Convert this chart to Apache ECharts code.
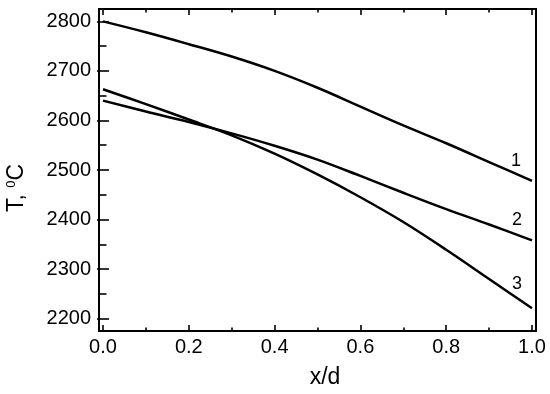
<!DOCTYPE html>
<html>
<head>
<meta charset="utf-8">
<script src="https://cdn.jsdelivr.net/npm/echarts@6/dist/echarts.min.js"></script>
<style>html,body{margin:0;padding:0;background:#fff}#c{width:550px;height:394px}</style>
</head>
<body>
<div id="c"></div>
<script>
const xValues = [0, 0.1, 0.2, 0.3, 0.4, 0.5, 0.6, 0.7, 0.8, 0.9, 1.0];
const curve1 = [2800, 2778, 2754, 2729, 2700, 2666, 2628, 2590, 2554, 2516, 2478];
const curve2 = [2640, 2618, 2597, 2574, 2549, 2521, 2488, 2454, 2421, 2390, 2358];
const curve3 = [2663, 2633, 2602, 2570, 2533, 2491, 2445, 2395, 2339, 2280, 2221];
const curveNames = ['1', '2', '3'];
const xMajorTicks = [0, 0.2, 0.4, 0.6, 0.8, 1.0];
const xMinorTicks = [0.1, 0.3, 0.5, 0.7, 0.9];
const yMajorTicks = [2200, 2300, 2400, 2500, 2600, 2700, 2800];
const yMinorTicks = [2250, 2350, 2450, 2550, 2650, 2750];
const xTitle = 'x/d';
const yTitle = 'T, {s|0}C';

const FONT = 'Liberation Sans, Arial, sans-serif';
const X_MIN = -0.0093, X_MAX = 1.0093, Y_MIN = 2175, Y_MAX = 2825;

function xAx(pos, ticks, len, labels) {
  return {
    type: 'value', position: pos, min: X_MIN, max: X_MAX,
    splitLine: { show: false },
    axisLine: { show: false },
    axisTick: { show: true, inside: true, length: len, customValues: ticks,
      lineStyle: { color: '#000', width: 1.6 } },
    axisLabel: labels ? { show: true, customValues: ticks, margin: 6,
      formatter: v => v.toFixed(1), color: '#000', fontSize: 20, fontFamily: FONT }
      : { show: false }
  };
}
function yAx(pos, ticks, len, labels) {
  return {
    type: 'value', position: pos, min: Y_MIN, max: Y_MAX,
    splitLine: { show: false },
    axisLine: { show: false },
    axisTick: { show: true, inside: true, length: len, customValues: ticks,
      lineStyle: { color: '#000', width: 1.6 } },
    axisLabel: labels ? { show: true, customValues: ticks, margin: 8,
      formatter: v => String(v), color: '#000', fontSize: 20, fontFamily: FONT }
      : { show: false }
  };
}

const curves = [curve1, curve2, curve3];
const labelOffsets = [[-16, -20], [-15, -20], [-15, -24]];

const chart = echarts.init(document.getElementById('c'), null, { renderer: 'canvas' });
chart.setOption({
  animation: false,
  backgroundColor: '#fff',
  grid: { left: 99, top: 9, width: 437, height: 322, show: true,
    borderColor: '#000', borderWidth: 2, backgroundColor: 'transparent' },
  xAxis: [
    xAx('bottom', xMajorTicks, 6, true),
    xAx('bottom', xMinorTicks, 3.5, false),
    xAx('top', xMajorTicks, 6, false),
    xAx('top', xMinorTicks, 3.5, false)
  ],
  yAxis: [
    yAx('left', yMajorTicks, 6, true),
    yAx('left', yMinorTicks, 3.5, false),
    yAx('right', yMajorTicks, 6, false),
    yAx('right', yMinorTicks, 3.5, false)
  ],
  series: curves.map((c, i) => ({
    type: 'line',
    name: curveNames[i],
    xAxisIndex: 0, yAxisIndex: 0,
    data: xValues.map((x, j) => [x, c[j]]),
    smooth: 0.35,
    showSymbol: false,
    lineStyle: { color: '#000', width: 2.5 },
    endLabel: { show: true, formatter: curveNames[i], distance: 0,
      align: 'center', verticalAlign: 'middle', offset: labelOffsets[i],
      color: '#000', fontSize: 18, fontFamily: FONT }
  })),
  graphic: [
    { type: 'text', x: 325, y: 378,
      style: { text: xTitle, fill: '#000', font: '23px ' + FONT,
        textAlign: 'center', textVerticalAlign: 'middle' } },
    { type: 'text', x: 17, y: 188, rotation: Math.PI / 2,
      style: { text: yTitle, fill: '#000', fontSize: 23, fontFamily: FONT,
        textAlign: 'center', textVerticalAlign: 'middle',
        rich: { s: { fontSize: 13, fontFamily: FONT, fill: '#000', verticalAlign: 'top', padding: [0, 0, 11, 0] } } } }
  ]
});
</script>
</body>
</html>
